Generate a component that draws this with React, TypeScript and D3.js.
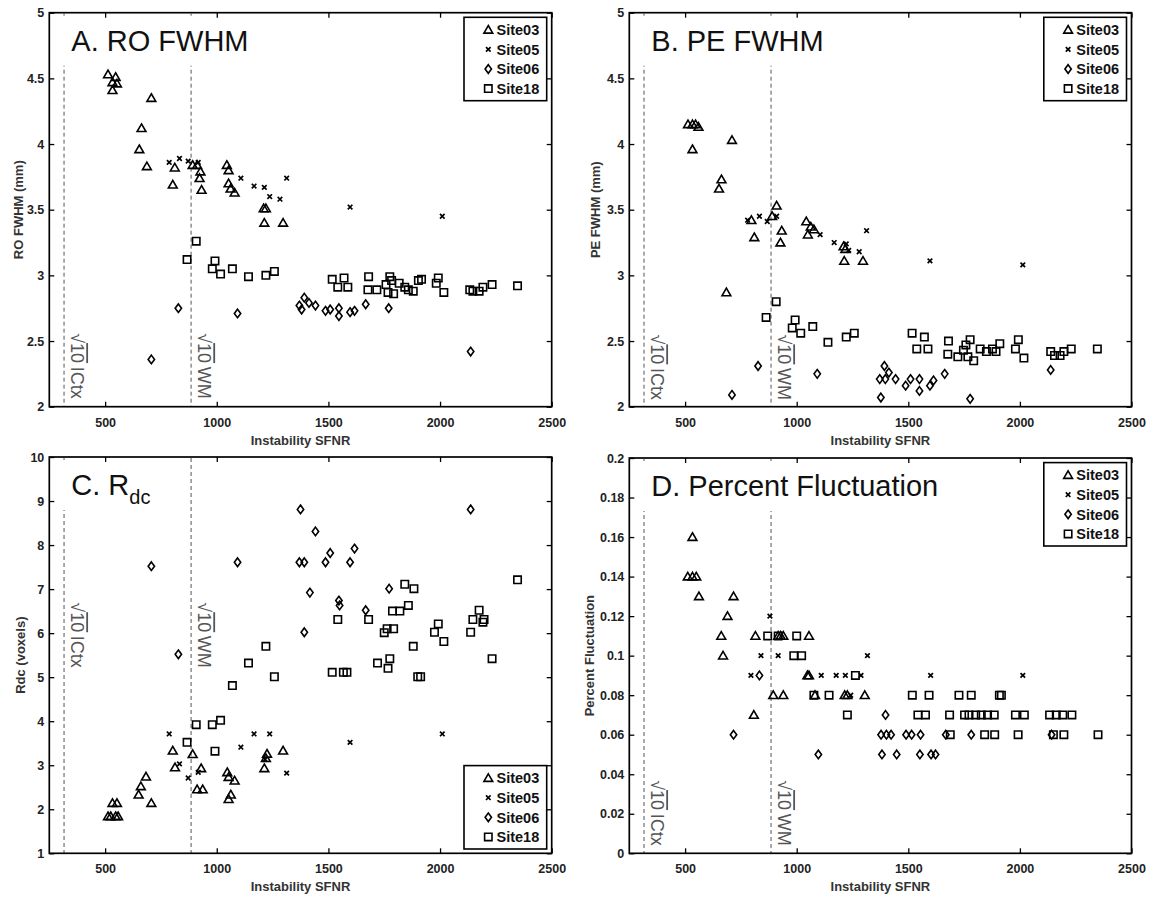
import React, { useEffect, useRef } from 'react';
import * as d3 from 'd3';

type Pt = [number, number];

// legend / series names, in drawing order
const sites = ['Site03', 'Site05', 'Site06', 'Site18'];
const markerKinds = ['tri', 'cross', 'diamond', 'square'];

const sfnrDomain = [250, 2500];
const sfnrTicks = [500, 1000, 1500, 2000, 2500];
const fwhmTicks = [2, 2.5, 3, 3.5, 4, 4.5, 5];
const rdcTicks = [1, 2, 3, 4, 5, 6, 7, 8, 9, 10];
const pfTicks = [0, 0.02, 0.04, 0.06, 0.08, 0.1, 0.12, 0.14, 0.16, 0.18, 0.2];

// sqrt(10) * tissue SFNR reference lines
const refLines = [316, 885];
const refNames = ['ICtx', 'WM'];

// A. RO FWHM
const roSite03: Pt[] = [
  [513, 4.53], [547, 4.51], [533, 4.47], [553, 4.46], [533, 4.41], [707, 4.35], [663, 4.12], [653, 3.96],
  [687, 3.83], [812, 3.82], [803, 3.69], [892, 3.84], [912, 3.84], [927, 3.79], [923, 3.74], [932, 3.65],
  [1045, 3.84], [1053, 3.8], [1053, 3.7], [1062, 3.66], [1080, 3.63], [1210, 3.51], [1220, 3.51],
  [1213, 3.4], [1297, 3.4],
];
const roSite05: Pt[] = [
  [787, 3.86], [833, 3.89], [872, 3.87], [917, 3.86], [1108, 3.74], [1167, 3.68], [1213, 3.67],
  [1237, 3.6], [1283, 3.58], [1313, 3.74], [1597, 3.52], [2010, 3.45],
];
const roSite06: Pt[] = [
  [828, 2.75], [707, 2.36], [1093, 2.71], [1370, 2.77], [1380, 2.74], [1392, 2.83], [1413, 2.79],
  [1442, 2.77], [1487, 2.73], [1508, 2.74], [1547, 2.75], [1547, 2.69], [1597, 2.72], [1617, 2.73],
  [1667, 2.78], [1770, 2.75], [2137, 2.42],
];
const roSite18: Pt[] = [
  [867, 3.12], [908, 3.26], [992, 3.11], [980, 3.05], [1017, 3.01], [1070, 3.05], [1142, 2.99],
  [1220, 3.0], [1258, 3.03], [1517, 2.97], [1570, 2.98], [1542, 2.91], [1587, 2.91], [1680, 2.99],
  [1677, 2.89], [1717, 2.89], [1758, 2.93], [1775, 2.99], [1767, 2.87], [1783, 2.96], [1792, 2.86],
  [1817, 2.94], [1842, 2.91], [1858, 2.89], [1880, 2.88], [1903, 2.96], [1917, 2.97], [1983, 2.94],
  [1992, 2.98], [2017, 2.87], [2133, 2.89], [2147, 2.88], [2175, 2.88], [2192, 2.91], [2233, 2.93],
  [2347, 2.92],
];

// B. PE FWHM
const peSite03: Pt[] = [
  [513, 4.15], [533, 4.15], [547, 4.15], [560, 4.13], [533, 3.96], [710, 4.03], [663, 3.73], [652, 3.66],
  [685, 2.87], [797, 3.42], [810, 3.29], [890, 3.45], [910, 3.53], [933, 3.34], [927, 3.25], [1043, 3.41],
  [1050, 3.31], [1063, 3.37], [1077, 3.35], [1210, 3.22], [1218, 3.2], [1213, 3.11], [1297, 3.11],
];
const peSite05: Pt[] = [
  [780, 3.42], [833, 3.45], [868, 3.41], [910, 3.45], [1105, 3.31], [1168, 3.25], [1222, 3.24],
  [1233, 3.19], [1280, 3.18], [1313, 3.34], [1597, 3.11], [2013, 3.08],
];
const peSite06: Pt[] = [
  [827, 2.31], [710, 2.09], [1092, 2.25], [1372, 2.21], [1377, 2.07], [1393, 2.31], [1397, 2.21],
  [1413, 2.26], [1443, 2.21], [1488, 2.16], [1510, 2.21], [1550, 2.21], [1550, 2.12], [1597, 2.16],
  [1613, 2.2], [1663, 2.25], [1777, 2.06], [2138, 2.28],
];
const peSite18: Pt[] = [
  [863, 2.68], [908, 2.8], [993, 2.66], [980, 2.6], [1018, 2.56], [1072, 2.61], [1140, 2.49], [1222, 2.53],
  [1258, 2.56], [1517, 2.56], [1538, 2.44], [1572, 2.53], [1588, 2.44], [1680, 2.5], [1677, 2.4],
  [1722, 2.38], [1747, 2.43], [1758, 2.47], [1777, 2.51], [1767, 2.38], [1793, 2.35], [1822, 2.44],
  [1850, 2.42], [1877, 2.44], [1893, 2.42], [1910, 2.48], [1993, 2.51], [1980, 2.44], [2018, 2.37],
  [2138, 2.42], [2155, 2.39], [2180, 2.39], [2197, 2.42], [2230, 2.44], [2347, 2.44],
];

// C. Rdc
const rdcSite03: Pt[] = [
  [513, 1.84], [525, 1.84], [547, 1.84], [558, 1.84], [533, 2.14], [553, 2.14], [650, 2.33], [660, 2.52],
  [683, 2.74], [707, 2.14], [803, 3.33], [813, 2.95], [892, 3.25], [912, 2.45], [937, 2.45], [930, 2.93],
  [1047, 2.84], [1053, 2.73], [1063, 2.33], [1053, 2.23], [1080, 2.65], [1213, 2.93], [1220, 3.16],
  [1225, 3.26], [1297, 3.33],
];
const rdcSite05: Pt[] = [
  [787, 3.71], [833, 3.03], [872, 2.71], [917, 2.84], [1108, 3.41], [1167, 3.71], [1237, 3.71],
  [1217, 3.13], [1313, 2.82], [1597, 3.52], [2010, 3.71],
];
const rdcSite06: Pt[] = [
  [707, 7.52], [828, 5.52], [1093, 7.61], [1375, 8.81], [1370, 7.61], [1392, 7.61], [1392, 6.02],
  [1417, 6.92], [1442, 8.31], [1487, 7.61], [1508, 7.82], [1547, 6.74], [1550, 6.63], [1597, 7.61],
  [1617, 7.92], [1667, 6.52], [1772, 7.01], [2137, 8.81],
];
const rdcSite18: Pt[] = [
  [867, 3.52], [908, 3.92], [980, 3.92], [1017, 4.02], [992, 3.32], [1070, 4.81], [1142, 5.32], [1220, 5.7],
  [1258, 5.01], [1517, 5.11], [1567, 5.11], [1583, 5.11], [1542, 6.31], [1680, 6.31], [1720, 5.32],
  [1750, 6.01], [1763, 6.1], [1775, 5.42], [1767, 5.2], [1792, 6.1], [1787, 6.5], [1820, 6.5], [1842, 7.11],
  [1858, 6.63], [1883, 7.01], [1880, 5.7], [1900, 5.01], [1913, 5.01], [1975, 6.02], [1992, 6.21],
  [2017, 5.81], [2137, 6.02], [2147, 6.31], [2175, 6.52], [2192, 6.25], [2197, 6.31], [2233, 5.42],
  [2347, 7.21],
];

// D. Percent Fluctuation
const pfSite03: Pt[] = [
  [533, 0.16], [512, 0.14], [533, 0.14], [550, 0.14], [562, 0.13], [717, 0.13], [690, 0.12], [662, 0.11],
  [670, 0.1], [815, 0.11], [808, 0.07], [895, 0.08], [940, 0.08], [917, 0.11], [928, 0.11], [940, 0.11],
  [1055, 0.11], [1048, 0.09], [1055, 0.09], [1082, 0.08], [1215, 0.08], [1227, 0.08], [1305, 0.08],
];
const pfSite05: Pt[] = [
  [880, 0.12], [840, 0.1], [917, 0.1], [795, 0.09], [1110, 0.09], [1177, 0.09], [1218, 0.09], [1242, 0.08],
  [1288, 0.09], [1317, 0.1], [1600, 0.09], [2013, 0.09],
];
const pfSite06: Pt[] = [
  [833, 0.09], [717, 0.06], [1097, 0.05], [1378, 0.06], [1382, 0.05], [1398, 0.07], [1402, 0.06],
  [1423, 0.06], [1448, 0.05], [1490, 0.06], [1515, 0.06], [1552, 0.05], [1555, 0.06], [1602, 0.05],
  [1622, 0.05], [1668, 0.06], [1782, 0.06], [2142, 0.06],
];
const pfSite18: Pt[] = [
  [870, 0.11], [917, 0.11], [1000, 0.11], [987, 0.1], [1022, 0.1], [1077, 0.08], [1145, 0.08], [1227, 0.07],
  [1263, 0.09], [1518, 0.08], [1593, 0.08], [1543, 0.07], [1577, 0.07], [1685, 0.07], [1688, 0.06],
  [1727, 0.08], [1782, 0.08], [1752, 0.07], [1772, 0.07], [1802, 0.07], [1827, 0.07], [1855, 0.07],
  [1885, 0.07], [1842, 0.06], [1887, 0.06], [1908, 0.08], [1917, 0.08], [1980, 0.07], [2020, 0.07],
  [1992, 0.06], [2133, 0.07], [2163, 0.07], [2192, 0.07], [2233, 0.07], [2150, 0.06], [2197, 0.06],
  [2350, 0.06],
];

const FONT = "'Liberation Sans', Arial, Helvetica, sans-serif";

const markerPath: Record<string, string> = {
  tri: 'M0,-4.3L4.4,3.3L-4.4,3.3Z',
  cross: 'M-2.3,-2.3L2.3,2.3M-2.3,2.3L2.3,-2.3',
  diamond: 'M0,-4.3L3.2,0L0,4.3L-3.2,0Z',
  square: 'M-3.7,-3.7H3.7V3.7H-3.7Z',
};

const panels = [
  {
    title: 'A. RO FWHM', sub: '', yLabel: 'RO FWHM (mm)', yDomain: [2, 5], yTicks: fwhmTicks,
    series: [roSite03, roSite05, roSite06, roSite18],
    left: 49.3, right: 551.7, top: 12.7, bottom: 406.7, legendTop: true, labelAt: 2.56, yLabelX: 23,
  },
  {
    title: 'B. PE FWHM', sub: '', yLabel: 'PE FWHM (mm)', yDomain: [2, 5], yTicks: fwhmTicks,
    series: [peSite03, peSite05, peSite06, peSite18],
    left: 629.3, right: 1131.5, top: 12.7, bottom: 406.7, legendTop: true, labelAt: 2.55, yLabelX: 600,
  },
  {
    title: 'C. R', sub: 'dc', yLabel: 'Rdc (voxels)', yDomain: [1, 10], yTicks: rdcTicks,
    series: [rdcSite03, rdcSite05, rdcSite06, rdcSite18],
    left: 49.3, right: 551.7, top: 457, bottom: 853.3, legendTop: false, labelAt: 6.7, yLabelX: 25,
  },
  {
    title: 'D. Percent Fluctuation', sub: '', yLabel: 'Percent Fluctuation', yDomain: [0, 0.2], yTicks: pfTicks,
    series: [pfSite03, pfSite05, pfSite06, pfSite18],
    left: 629.3, right: 1131.5, top: 458, bottom: 853.3, legendTop: true, labelAt: 0.037, yLabelX: 594,
  },
];

function drawMarker(g: any, kind: string, cx: number, cy: number) {
  g.append('path')
    .attr('d', markerPath[kind])
    .attr('transform', `translate(${cx},${cy})`)
    .attr('fill', 'none')
    .attr('stroke', '#000')
    .attr('stroke-width', kind === 'cross' ? 1.7 : 1.6)
    .attr('stroke-linejoin', 'miter');
}

export default function App() {
  const ref = useRef<SVGSVGElement>(null);

  useEffect(() => {
    const svg = d3.select(ref.current);
    svg.selectAll('*').remove();

    panels.forEach((p) => {
      const x = d3.scaleLinear().domain(sfnrDomain).range([p.left, p.right]);
      const y = d3.scaleLinear().domain(p.yDomain).range([p.bottom, p.top]);
      const g = svg.append('g');

      // reference lines (full height, the title box hides the top part)
      refLines.forEach((v) => {
        g.append('line')
          .attr('x1', x(v)).attr('x2', x(v))
          .attr('y1', p.top + 1).attr('y2', p.bottom)
          .attr('stroke', '#555').attr('stroke-width', 1)
          .attr('stroke-dasharray', '4,3');
      });

      // rotated sqrt(10) labels
      refLines.forEach((v, i) => {
        const lx = x(v) + 7;
        const ly = y(p.labelAt);
        const t = g.append('text')
          .attr('x', lx).attr('y', ly)
          .attr('transform', `rotate(90,${lx},${ly})`)
          .attr('font-family', FONT).attr('font-size', 18).attr('fill', '#555');
        t.append('tspan').text('\u221A');
        t.append('tspan').text('10').attr('text-decoration', 'overline').style('text-decoration', 'overline');
        t.append('tspan').text('\u2009' + refNames[i]);
      });

      // title with white background
      const tg = g.append('g');
      const tt = tg.append('text')
        .attr('x', p.left + 22).attr('y', p.top + 38)
        .attr('font-family', FONT).attr('font-size', 29).attr('fill', '#111')
        .text(p.title);
      if (p.sub) {
        tt.append('tspan').attr('dy', 9).attr('font-size', 20).text(p.sub);
      }
      const bb = (tt.node() as SVGTextElement).getBBox();
      tg.insert('rect', 'text')
        .attr('x', p.left + 11).attr('y', p.top + 3)
        .attr('width', bb.x + bb.width + 6 - (p.left + 11))
        .attr('height', 50)
        .attr('fill', '#fff');

      // data markers
      p.series.forEach((pts, si) => {
        const sg = g.append('g');
        pts.forEach((d) => drawMarker(sg, markerKinds[si], x(d[0]), y(d[1])));
      });

      // axes: inside ticks on all four sides
      const styleAxis = (ax: any, fs: number) => {
        ax.select('.domain').remove();
        ax.selectAll('.tick line').attr('stroke', '#000').attr('stroke-width', 1.3);
        ax.selectAll('text').attr('font-family', FONT).attr('font-size', fs)
          .attr('font-weight', 'bold').attr('fill', '#222');
      };
      const bottomAx = g.append('g').attr('transform', `translate(0,${p.bottom})`)
        .call(d3.axisBottom(x).tickValues(sfnrTicks).tickSize(-5).tickPadding(11).tickFormat(d3.format('d')));
      styleAxis(bottomAx, 12.5);
      const topAx = g.append('g').attr('transform', `translate(0,${p.top})`)
        .call(d3.axisTop(x).tickValues(sfnrTicks).tickSize(-5).tickFormat(() => ''));
      styleAxis(topAx, 12);
      const leftAx = g.append('g').attr('transform', `translate(${p.left},0)`)
        .call(d3.axisLeft(y).tickValues(p.yTicks).tickSize(-5).tickPadding(5).tickFormat((d: any) => String(d)));
      styleAxis(leftAx, 12.5);
      const rightAx = g.append('g').attr('transform', `translate(${p.right},0)`)
        .call(d3.axisRight(y).tickValues(p.yTicks).tickSize(-5).tickFormat(() => ''));
      styleAxis(rightAx, 12);

      // frame
      g.append('rect')
        .attr('x', p.left).attr('y', p.top)
        .attr('width', p.right - p.left).attr('height', p.bottom - p.top)
        .attr('fill', 'none').attr('stroke', '#000').attr('stroke-width', 1.7);

      // axis labels
      g.append('text')
        .attr('x', (p.left + p.right) / 2).attr('y', p.bottom + 38)
        .attr('text-anchor', 'middle')
        .attr('font-family', FONT).attr('font-size', 13).attr('font-weight', 'bold').attr('fill', '#333')
        .text('Instability SFNR');
      const cy = (p.top + p.bottom) / 2;
      g.append('text')
        .attr('x', p.yLabelX).attr('y', cy)
        .attr('transform', `rotate(-90,${p.yLabelX},${cy})`)
        .attr('text-anchor', 'middle')
        .attr('font-family', FONT).attr('font-size', 13).attr('font-weight', 'bold').attr('fill', '#333')
        .text(p.yLabel);

      // legend
      const lw = 82.7;
      const lh = 83.4;
      const bx = p.right - 5 - lw;
      const by = p.legendTop ? p.top + 4.6 : p.bottom - 4.3 - lh;
      g.append('rect')
        .attr('x', bx).attr('y', by).attr('width', lw).attr('height', lh)
        .attr('fill', '#fff').attr('stroke', '#000').attr('stroke-width', 1.6);
      sites.forEach((s, i) => {
        const ey = by + 12.5 + i * 19.6;
        drawMarker(g, markerKinds[i], bx + 24.3, ey);
        g.append('text')
          .attr('x', bx + 32.5).attr('y', ey).attr('dy', '0.36em')
          .attr('font-family', FONT).attr('font-size', 14.5).attr('font-weight', 'bold').attr('fill', '#111')
          .text(s);
      });
    });
  }, []);

  return (
    <svg
      ref={ref}
      width={1155}
      height={898}
      style={{ position: 'absolute', left: 0, top: 0, background: '#fff' }}
    />
  );
}
